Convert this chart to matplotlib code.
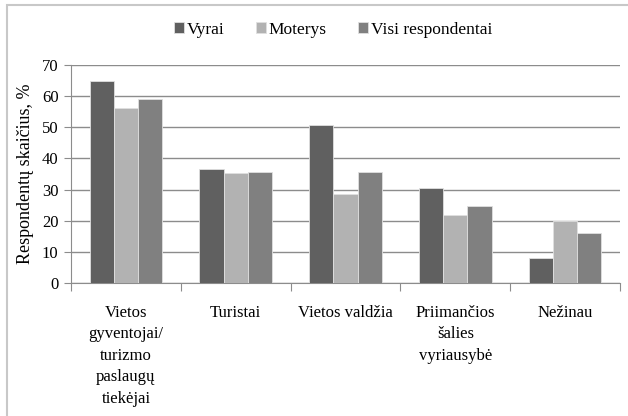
import matplotlib.pyplot as plt
import numpy as np
from matplotlib.patches import Rectangle

# Duomenys
kategorijos = [
    "Vietos\ngyventojai/\nturizmo\npaslaugų\ntiekėjai",
    "Turistai",
    "Vietos valdžia",
    "Priimančios\nšalies\nvyriausybė",
    "Nežinau",
]
vyrai = [65.0, 36.6, 50.7, 30.4, 8.0]
moterys = [56.2, 35.4, 28.6, 21.7, 19.8]
visi = [59.0, 35.7, 35.6, 24.6, 15.9]
serijos = ["Vyrai", "Moterys", "Visi respondentai"]
spalvos = ["#606060", "#b2b2b2", "#808080"]

plt.rcParams["font.family"] = ["Liberation Serif", "DejaVu Serif"]
plt.rcParams["font.size"] = 12

fig = plt.figure(figsize=(6.28, 4.16), dpi=100)
ax = fig.add_axes([71 / 628, 1 - 282.7 / 416, 549 / 628, 217.4 / 416])

# Rėmelis aplink diagramą
fig.patches.append(
    Rectangle((7 / 628, -0.1), 1.2, 1.1 - 5 / 416, transform=fig.transFigure,
              fill=False, edgecolor="#c8c8c8", linewidth=1.5)
)

x = np.arange(len(kategorijos))
plotis = 0.22
for i, (reiksmes, pav, sp) in enumerate(zip([vyrai, moterys, visi], serijos, spalvos)):
    ax.bar(x + (i - 1) * plotis, reiksmes, plotis, color=sp, label=pav,
           edgecolor="#e0e0e0", linewidth=0.6, zorder=3)

ax.set_xlim(-0.5, len(kategorijos) - 0.5)
ax.set_ylim(0, 70)
ax.set_yticks(range(0, 71, 10))
ax.grid(axis="y", color="#8c8c8c", linewidth=1, zorder=0)

for s in ["top", "right"]:
    ax.spines[s].set_visible(False)
ax.spines["left"].set_color("#8c8c8c")
ax.spines["bottom"].set_color("#8c8c8c")

ax.set_xticks(np.arange(-0.5, len(kategorijos)), minor=False)
ax.set_xticklabels([])
ax.set_xticks(x, minor=True)
ax.set_xticklabels(kategorijos, minor=True, linespacing=1.45, va="top")
ax.tick_params(axis="x", which="major", length=6, color="#8c8c8c", direction="out")
ax.tick_params(axis="x", which="minor", length=0, pad=16)
ax.tick_params(axis="y", length=5, color="#8c8c8c", pad=4)

ax.set_ylabel("Respondentų skaičius, %", fontsize=13, labelpad=6)

fig.legend(loc="center", bbox_to_anchor=(333 / 628, 1 - 30 / 416), ncol=3, frameon=False,
           fontsize=12.5, handlelength=0.6, handleheight=0.6, handletextpad=0.15,
           columnspacing=1.8)

fig.savefig("out.png", dpi=100)
